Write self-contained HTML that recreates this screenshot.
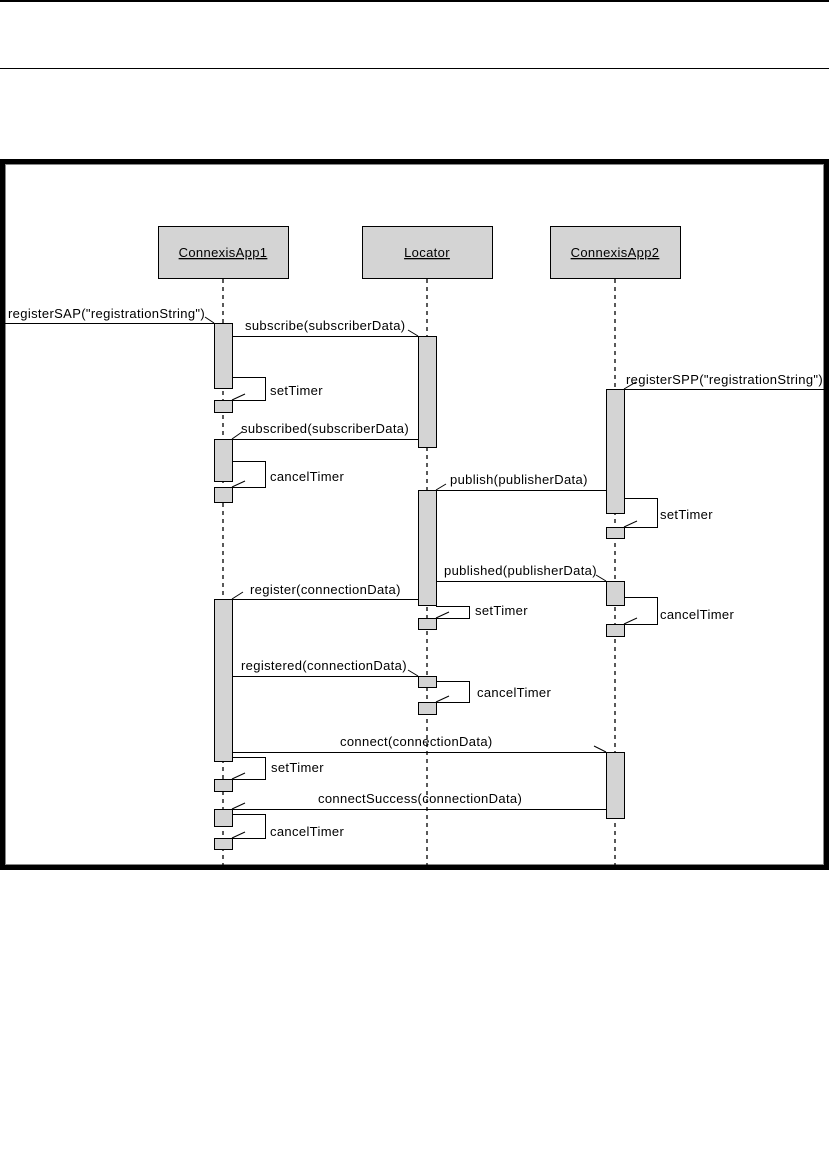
<!DOCTYPE html>
<html><head><meta charset="utf-8"><style>
html,body{margin:0;padding:0;background:#fff;width:829px;height:1170px;overflow:hidden}
svg{display:block}
text{font-family:"Liberation Sans",sans-serif;font-size:13px;letter-spacing:0.35px;fill:#000}
</style></head><body>
<svg width="829" height="1170" viewBox="0 0 829 1170" xmlns="http://www.w3.org/2000/svg">
<line x1="0" y1="1" x2="829" y2="1" stroke="#000" stroke-width="2"/>
<line x1="0" y1="68.5" x2="829" y2="68.5" stroke="#000" stroke-width="1"/>
<rect x="2.5" y="161.5" width="824" height="706" fill="#fff" stroke="#000" stroke-width="5"/>
<rect x="5.5" y="164.5" width="818" height="700" fill="none" stroke="#888" stroke-width="1"/>
<g stroke="#000" stroke-width="1" fill="#d4d4d4">
<rect x="158.5" y="226.5" width="130" height="52"/>
<rect x="362.5" y="226.5" width="130" height="52"/>
<rect x="550.5" y="226.5" width="130" height="52"/>
</g>
<g stroke="#000" stroke-width="1.3" stroke-dasharray="4,4">
<line x1="223" y1="279" x2="223" y2="866"/>
<line x1="427" y1="279" x2="427" y2="866"/>
<line x1="615" y1="279" x2="615" y2="866"/>
</g>
<g text-anchor="middle">
<text x="223" y="257" text-decoration="underline">ConnexisApp1</text>
<text x="427" y="257" text-decoration="underline">Locator</text>
<text x="615" y="257" text-decoration="underline">ConnexisApp2</text>
</g>
<g stroke="#000" stroke-width="1" fill="none">
<line x1="0" y1="323.5" x2="214" y2="323.5"/>
<line x1="232" y1="336.5" x2="418" y2="336.5"/>
<polyline points="232,377.5 265.5,377.5 265.5,400.5 232,400.5"/>
<line x1="418" y1="439.5" x2="232" y2="439.5"/>
<polyline points="232,461.5 265.5,461.5 265.5,487.5 232,487.5"/>
<line x1="624" y1="389.5" x2="829" y2="389.5"/>
<line x1="606" y1="490.5" x2="436" y2="490.5"/>
<polyline points="624,498.5 657.5,498.5 657.5,527.5 624,527.5"/>
<line x1="436" y1="581.5" x2="606" y2="581.5"/>
<polyline points="624,597.5 657.5,597.5 657.5,624.5 624,624.5"/>
<polyline points="436,606.5 469.5,606.5 469.5,618.5 436,618.5"/>
<line x1="418" y1="599.5" x2="232" y2="599.5"/>
<line x1="232" y1="676.5" x2="418" y2="676.5"/>
<polyline points="436,681.5 469.5,681.5 469.5,702.5 436,702.5"/>
<line x1="232" y1="752.5" x2="606" y2="752.5"/>
<polyline points="232,757.5 265.5,757.5 265.5,779.5 232,779.5"/>
<line x1="606" y1="809.5" x2="232" y2="809.5"/>
<polyline points="232,814.5 265.5,814.5 265.5,838.5 232,838.5"/>
<line x1="214" y1="323" x2="205" y2="317"/>
<line x1="418" y1="336" x2="408" y2="330"/>
<line x1="232" y1="400" x2="245" y2="394"/>
<line x1="232" y1="439" x2="242" y2="432"/>
<line x1="232" y1="487" x2="245" y2="481"/>
<line x1="624" y1="389" x2="636" y2="382"/>
<line x1="436" y1="490" x2="446" y2="484"/>
<line x1="624" y1="527" x2="637" y2="521"/>
<line x1="606" y1="581" x2="596" y2="575"/>
<line x1="624" y1="624" x2="637" y2="618"/>
<line x1="436" y1="618" x2="449" y2="612"/>
<line x1="232" y1="599" x2="243" y2="592"/>
<line x1="418" y1="676" x2="408" y2="670"/>
<line x1="436" y1="702" x2="449" y2="696"/>
<line x1="606" y1="752" x2="594" y2="746"/>
<line x1="232" y1="779" x2="245" y2="773"/>
<line x1="232" y1="809" x2="245" y2="803"/>
<line x1="232" y1="838" x2="245" y2="832"/>
</g>
<g stroke="#000" stroke-width="1" fill="#d4d4d4">
<rect x="214.5" y="323.5" width="18" height="65"/>
<rect x="214.5" y="400.5" width="18" height="12"/>
<rect x="214.5" y="439.5" width="18" height="42"/>
<rect x="214.5" y="487.5" width="18" height="15"/>
<rect x="214.5" y="599.5" width="18" height="162"/>
<rect x="214.5" y="779.5" width="18" height="12"/>
<rect x="214.5" y="809.5" width="18" height="17"/>
<rect x="214.5" y="838.5" width="18" height="11"/>
<rect x="418.5" y="336.5" width="18" height="111"/>
<rect x="418.5" y="490.5" width="18" height="115"/>
<rect x="418.5" y="618.5" width="18" height="11"/>
<rect x="418.5" y="676.5" width="18" height="11"/>
<rect x="418.5" y="702.5" width="18" height="12"/>
<rect x="606.5" y="389.5" width="18" height="124"/>
<rect x="606.5" y="527.5" width="18" height="11"/>
<rect x="606.5" y="581.5" width="18" height="24"/>
<rect x="606.5" y="624.5" width="18" height="12"/>
<rect x="606.5" y="752.5" width="18" height="66"/>
</g>
<text x="8" y="318">registerSAP("registrationString")</text>
<text x="245" y="330">subscribe(subscriberData)</text>
<text x="270" y="395">setTimer</text>
<text x="241" y="433">subscribed(subscriberData)</text>
<text x="270" y="481">cancelTimer</text>
<text x="626" y="384">registerSPP("registrationString")</text>
<text x="450" y="484">publish(publisherData)</text>
<text x="660" y="519">setTimer</text>
<text x="444" y="575">published(publisherData)</text>
<text x="660" y="619">cancelTimer</text>
<text x="475" y="615">setTimer</text>
<text x="250" y="594">register(connectionData)</text>
<text x="241" y="670">registered(connectionData)</text>
<text x="477" y="697">cancelTimer</text>
<text x="340" y="746">connect(connectionData)</text>
<text x="271" y="772">setTimer</text>
<text x="318" y="803">connectSuccess(connectionData)</text>
<text x="270" y="836">cancelTimer</text>
</svg>
</body></html>
